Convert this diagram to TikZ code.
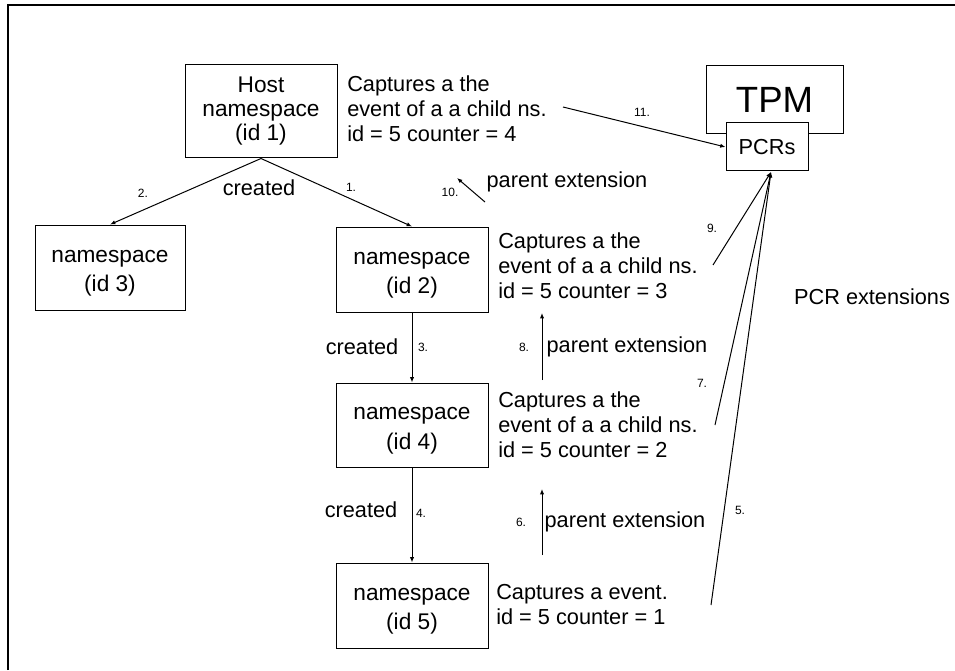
\documentclass[tikz,border=0pt]{standalone}
\usepackage{fontspec}
\setmainfont{Liberation Sans}
\usetikzlibrary{arrows.meta}
\newcommand{\topline}{\rule{0pt}{21pt}}
\begin{document}
\begin{tikzpicture}[x=0.75pt,y=-0.75pt,
  box/.style={draw, line width=0.75pt, inner sep=0pt, align=center, fill=white},
  nsbox/.style={box, minimum width=114pt, minimum height=63.75pt, font=\fontsize{17}{22}\selectfont},
  captxt/.style={anchor=west, inner sep=0pt, align=left, font=\fontsize{16.3}{18.75}\selectfont},
  lbl/.style={inner sep=0pt, font=\fontsize{16.3}{18.75}\selectfont},
  num/.style={inner sep=0pt, font=\fontsize{9}{10}\selectfont},
  arr/.style={line width=0.75pt, -{Latex[length=4pt,width=3.2pt]}}]
\useasboundingbox (0,0) rectangle (955,670);
\draw[line width=1pt] (8,670) -- (8,5) -- (955,5);

% boxes
\node[box, minimum width=114pt, minimum height=69.75pt, font=\fontsize{17}{18}\selectfont] (host) at (261,111.5) {\strut Host\\\strut namespace\\\strut (id 1)};
\node[nsbox, minimum width=112.5pt] (ns3) at (110,267.5) {\topline namespace\\\strut (id 3)};
\node[nsbox] (ns2) at (412,269.5) {\topline namespace\\\strut (id 2)};
\node[nsbox, minimum height=63pt] (ns4) at (412,425) {\topline namespace\\\strut (id 4)};
\node[nsbox] (ns5) at (412,605.5) {\topline namespace\\\strut (id 5)};

\node[box, minimum width=102.75pt, minimum height=51pt, anchor=north] (tpm) at (774.5,65) {};
\node[inner sep=0pt, font=\fontsize{27.4}{30}\selectfont] (tpmtxt) at (774.5,100) {TPM};
\node[box, minimum width=61.5pt, minimum height=36pt, font=\fontsize{16.3}{18.75}\selectfont] (pcr) at (767,147) {PCRs};

% captions
\node[captxt] (c1) at (347,109) {Captures a the\\event of a a child ns.\\id = 5 counter = 4};
\node[captxt] (c2) at (498,266) {Captures a the\\event of a a child ns.\\id = 5 counter = 3};
\node[captxt] (c4) at (498,425) {Captures a the\\event of a a child ns.\\id = 5 counter = 2};
\node[captxt] (c5) at (496,605) {Captures a event.\\id = 5 counter = 1};

% creation arrows
\draw[arr] (host.south) -- (ns2.north);
\draw[arr] (host.south) -- (ns3.north);
\draw[arr] (ns2.south) -- (ns4.north);
\draw[arr] (ns4.south) -- (ns5.north);

\node[lbl] (cr1) at (259,188) {created};
\node[lbl] (cr2) at (362,347) {created};
\node[lbl] (cr3) at (361,510) {created};
\node[num] (n1) at (351,187) {1.};
\node[num] (n2) at (143,193) {2.};
\node[num] (n3) at (423,347) {3.};
\node[num] (n4) at (421,513) {4.};

% parent extension arrows
\coordinate (p10a) at (485,202);
\coordinate (p10b) at (457,178);
\draw[arr] (p10a) -- (p10b);
\coordinate (p8a) at (542,380);
\coordinate (p8b) at (542,313);
\draw[arr] (p8a) -- (p8b);
\coordinate (p6a) at (542,555);
\coordinate (p6b) at (542,489);
\draw[arr] (p6a) -- (p6b);
\node[num] (n10) at (450,192) {10.};
\node[num] (n8) at (524,347) {8.};
\node[num] (n6) at (521,522) {6.};
\node[lbl] (pe10) at (567,182) {parent extension};
\node[lbl] (pe8) at (627,347) {parent extension};
\node[lbl] (pe6) at (625,522) {parent extension};

% PCR extension arrows
\coordinate (t11) at (563,107);
\draw[arr] (t11) -- (pcr.west);
\coordinate (pcrin) at (771,172);
\coordinate (t9) at (713,265);
\coordinate (t7) at (715,425);
\coordinate (t5) at (711,605);
\draw[arr] (t9) -- (pcrin);
\draw[arr] (t7) -- (pcrin);
\draw[arr] (t5) -- (pcrin);
\node[num] (n11) at (642,112) {11.};
\node[num] (n9) at (712,228) {9.};
\node[num] (n7) at (702,383) {7.};
\node[num] (n5) at (740,510) {5.};
\node[lbl] (pcrext) at (872,297) {PCR extensions};
\end{tikzpicture}
\end{document}
